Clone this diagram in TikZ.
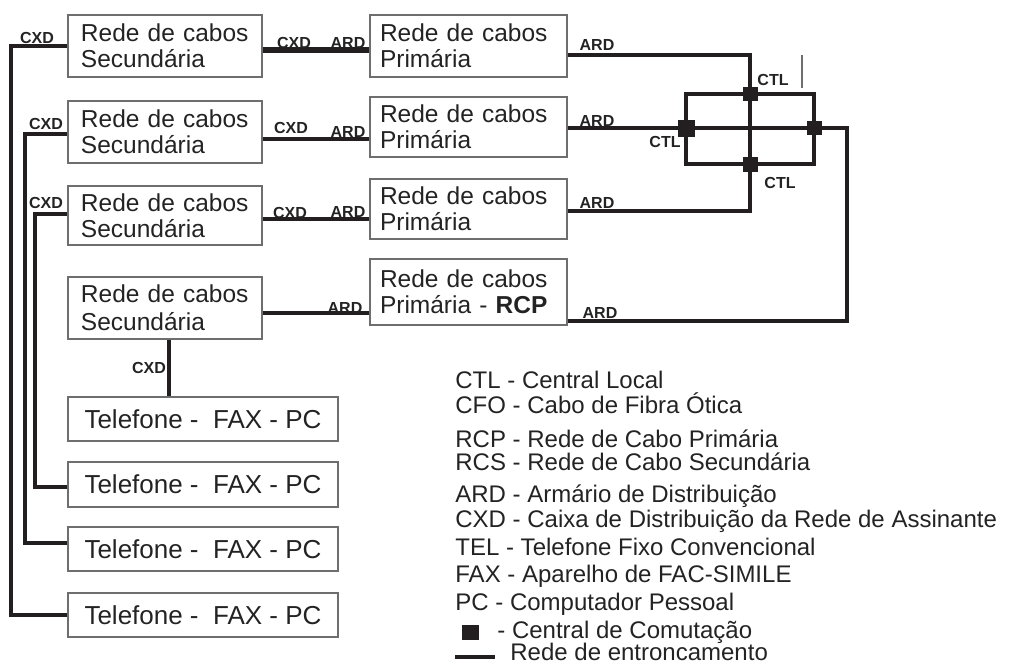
\documentclass[tikz,border=0pt]{standalone}
\usepackage{fontspec}
\setmainfont{Liberation Sans}
\usepackage{tikz}
\usetikzlibrary{positioning}
\definecolor{cableblack}{RGB}{35, 31, 32}
\definecolor{boxgray}{RGB}{110, 110, 110}
\definecolor{inkgray}{RGB}{35, 35, 35}

\tikzset{
  secbox/.style={draw=boxgray, line width=0.6pt, minimum width=97pt, minimum height=31pt,
    inner xsep=6.5pt, inner ysep=0pt, text width=84pt, align=left,
    font=\fontsize{12.25}{13}\selectfont, text=inkgray},
  primbox/.style={secbox, minimum width=98.5pt, inner xsep=5pt, text width=88.5pt},
  phonebox/.style={draw=boxgray, line width=0.6pt, minimum width=135pt, minimum height=22pt,
    inner sep=0pt, font=\fontsize{13}{15}\selectfont, text=inkgray},
  trunk/.style={draw=cableblack, line width=2pt},
  tag/.style={font=\fontsize{8}{9}\selectfont\bfseries, text=inkgray, inner sep=0pt},
  legend/.style={anchor=base west, inner sep=0pt, font=\fontsize{12}{14}\selectfont, text=inkgray},
  ctl/.style={fill=cableblack, minimum width=7.5pt, minimum height=7pt, inner sep=0pt},
}

\begin{document}
\begin{tikzpicture}[x=0.5pt, y=-0.5pt]
  \useasboundingbox (0,0) rectangle (1014,666);
  % Secondary networks
  \node[secbox] (s1) at (165,46) {Rede de cabos\\Secundária};
  \node[secbox] (s2) at (165,132) {Rede de cabos\\Secundária};
  \node[secbox, minimum height=29.5pt] (s3) at (165,215.5) {Rede de cabos\\Secundária};
  \node[secbox, font=\fontsize{12.25}{14}\selectfont] (s4) at (165,308) {Rede de cabos\\Secundária};
  % Primary networks
  \node[primbox] (p1) at (468.5,46) {Rede de cabos\\Primária};
  \node[primbox, minimum height=30pt] (p2) at (468.5,127) {Rede de cabos\\Primária};
  \node[primbox, minimum height=30pt] (p3) at (468.5,209) {Rede de cabos\\Primária};
  \node[primbox, minimum height=33pt] (p4) at (468.5,292) {Rede de cabos\\Primária - \textbf{RCP}};
  % Terminals
  \node[phonebox] (t1) at (203,419) {Telefone -\ \ FAX - PC};
  \node[phonebox, minimum height=22.5pt] (t2) at (203,484.5) {Telefone -\ \ FAX - PC};
  \node[phonebox] (t3) at (203,549) {Telefone -\ \ FAX - PC};
  \node[phonebox] (t4) at (203,615) {Telefone -\ \ FAX - PC};
  % Central exchange points
  \coordinate (jT) at (750,94);
  \coordinate (jB) at (750,164);
  \coordinate (jL) at (686,128);
  \coordinate (jR) at (814,128);
  \coordinate (drop) at ([xshift=2pt]s4.south);

  % Secondary to primary
  \draw[trunk, line width=3pt] (s1.east |- 0,50) -- (p1.west |- 0,50);
  \draw[trunk] (s2.east |- 0,139) -- (p2.west |- 0,139);
  \draw[trunk, line width=2.3pt] (s3.east |- 0,219) -- (p3.west |- 0,219);
  \draw[trunk] (s4.east |- 0,313) -- (p4.west |- 0,313);
  % Subscriber lines
  \draw[trunk] (s1.west) -- ++(-56,0) |- (t4.west);
  \draw[trunk] ([yshift=-1pt]s2.west) -- ++(-42,0) |- ([yshift=3pt]t3.west);
  \draw[trunk] ([yshift=1pt]s3.west) -- ++(-32,0) |- ([yshift=-1pt]t2.west);
  \draw[trunk] (drop) -- (drop |- t1.north);
  % Trunk ring
  \draw[trunk] (p1.east |- 0,55) -| (jT) -- (jB) |- (p3.east |- 0,211);
  \draw[trunk] (p2.east |- 0,128) -- (jL) -- (jR) -- ++(33,0) |- (p4.east |- 0,321);
  \draw[trunk, line width=2.2pt] (jL |- jT) rectangle (jR |- jB);
  \draw[boxgray, line width=0.6pt] (802,55) -- (802,88);
  \node[ctl] at (jT) {};
  \node[ctl, minimum width=7.5pt, minimum height=7.5pt] at (jB) {};
  \node[ctl, minimum width=8.5pt, minimum height=8.5pt] at (jL) {};
  \node[ctl] at (jR) {};

  % Labels
  \node[tag] (xd0) at (37,38) {CXD};
  \node[tag] (xd1) at (294,43) {CXD};
  \node[tag] (ad1) at (348,43) {ARD};
  \node[tag] (xd2) at (291,128) {CXD};
  \node[tag] (ad2) at (348,132) {ARD};
  \node[tag] (xdl2) at (46,124) {CXD};
  \node[tag] (xd3) at (290,213) {CXD};
  \node[tag] (ad3) at (348,212) {ARD};
  \node[tag] (xdl3) at (46,203) {CXD};
  \node[tag] (ad4) at (345,308) {ARD};
  \node[tag] (xd4) at (149,368) {CXD};
  \node[tag] (ar1) at (597,45) {ARD};
  \node[tag] (ar2) at (597,121) {ARD};
  \node[tag] (ar3) at (597,203) {ARD};
  \node[tag] (ar4) at (600,313) {ARD};
  \node[tag] (ctlT) at (773,80) {CTL};
  \node[tag] (ctlL) at (665,142) {CTL};
  \node[tag] (ctlB) at (780,183) {CTL};

  % Legend
  \node[legend] (lg1) at (455,388) {CTL - Central Local};
  \node[legend] (lg2) at (455,413) {CFO - Cabo de Fibra Ótica};
  \node[legend] (lg3) at (455,447) {RCP - Rede de Cabo Primária};
  \node[legend] (lg4) at (455,470) {RCS - Rede de Cabo Secundária};
  \node[legend] (lg5) at (455,502) {ARD - Armário de Distribuição};
  \node[legend] (lg6) at (455,527) {CXD - Caixa de Distribuição da Rede de Assinante};
  \node[legend] (lg7) at (455,555) {TEL - Telefone Fixo Convencional};
  \node[legend] (lg8) at (455,582) {FAX - Aparelho de FAC-SIMILE};
  \node[legend] (lg9) at (455,610) {PC - Computador Pessoal};
  \node[ctl, minimum width=8.5pt, minimum height=7.5pt] (lgsq) at (470.5,632.5) {};
  \node[legend] (lg10) at (497,638) {- Central de Comutação};
  \draw[trunk] (455,657) -- (495,657);
  \node[legend] (lg11) at (510,660) {Rede de entroncamento};
\end{tikzpicture}
\end{document}
